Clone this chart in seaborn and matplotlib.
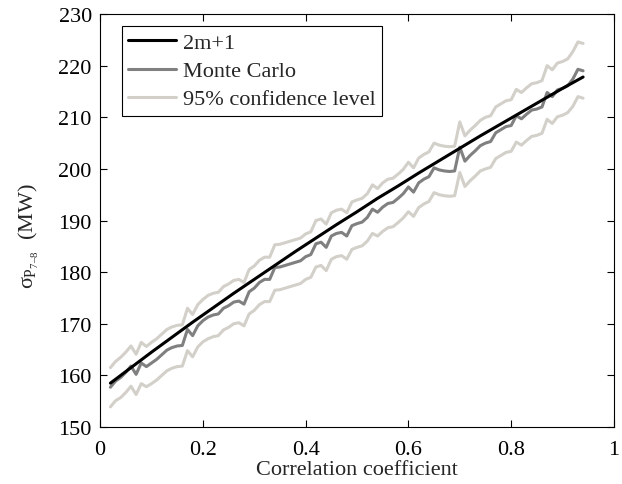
import numpy as np
import pandas as pd
import matplotlib
matplotlib.use("Agg")
import matplotlib.pyplot as plt
from matplotlib.lines import Line2D
import seaborn as sns

# ---- data ----
rho_mc = [round(0.02 + 0.01 * i, 2) for i in range(93)]  # 0.02 ... 0.94

monte_carlo = [157.7, 158.9, 159.6, 160.6, 161.8, 160.2, 162.4, 161.7, 162.4, 163.1,
               164.0, 164.9, 165.4, 165.7, 165.8, 168.9, 167.7, 169.6, 170.6, 171.3,
               171.7, 171.9, 173.0, 173.5, 174.2, 174.4, 173.8, 176.2, 176.9, 178.0,
               178.6, 178.6, 180.9, 181.0, 181.3, 181.6, 181.9, 182.2, 183.0, 183.4,
               185.5, 185.8, 184.8, 187.0, 187.5, 187.7, 187.0, 189.0, 189.4, 189.7,
               190.6, 192.2, 191.6, 192.6, 193.3, 193.5, 194.3, 195.2, 196.5, 195.5,
               197.3, 198.0, 198.5, 200.2, 199.8, 199.6, 199.5, 199.6, 204.2, 201.5,
               202.6, 203.5, 204.5, 205.0, 205.3, 207.0, 207.6, 208.2, 208.4, 210.3,
               209.7, 210.6, 211.4, 211.6, 212.0, 214.8, 214.0, 215.3, 215.6, 216.1,
               217.4, 219.3, 219.0]

ci_upper = [161.5, 162.7, 163.5, 164.5, 165.7, 164.1, 166.4, 165.6, 166.4, 167.1,
            168.0, 168.9, 169.4, 169.7, 169.8, 173.0, 171.8, 173.7, 174.7, 175.5,
            175.9, 176.1, 177.2, 177.7, 178.4, 178.6, 178.0, 180.5, 181.2, 182.3,
            182.9, 182.9, 185.3, 185.4, 185.7, 186.0, 186.3, 186.6, 187.4, 187.8,
            190.0, 190.3, 189.3, 191.5, 192.0, 192.2, 191.5, 193.6, 194.0, 194.3,
            195.2, 196.9, 196.2, 197.3, 198.0, 198.2, 199.0, 199.9, 201.3, 200.2,
            202.1, 202.8, 203.3, 205.0, 204.6, 204.4, 204.3, 204.4, 209.1, 206.4,
            207.5, 208.4, 209.4, 210.0, 210.3, 212.0, 212.6, 213.2, 213.4, 215.4,
            214.8, 215.7, 216.5, 216.7, 217.1, 220.0, 219.2, 220.5, 220.8, 221.3,
            222.7, 224.6, 224.3]

ci_lower = [153.9, 155.1, 155.7, 156.7, 157.9, 156.3, 158.4, 157.8, 158.4, 159.1,
            160.0, 160.9, 161.4, 161.7, 161.8, 164.8, 163.6, 165.5, 166.5, 167.1,
            167.5, 167.7, 168.8, 169.3, 170.0, 170.2, 169.6, 171.9, 172.6, 173.7,
            174.3, 174.3, 176.5, 176.6, 176.9, 177.2, 177.5, 177.8, 178.6, 179.0,
            181.0, 181.3, 180.3, 182.5, 183.0, 183.2, 182.5, 184.4, 184.8, 185.1,
            186.0, 187.5, 187.0, 187.9, 188.6, 188.8, 189.6, 190.5, 191.7, 190.8,
            192.5, 193.2, 193.7, 195.4, 195.0, 194.8, 194.7, 194.8, 199.3, 196.6,
            197.7, 198.6, 199.6, 200.0, 200.3, 202.0, 202.6, 203.2, 203.4, 205.2,
            204.6, 205.5, 206.3, 206.5, 206.9, 209.6, 208.8, 210.1, 210.4, 210.9,
            212.1, 214.0, 213.7]

rho_2m1 = [0.02, 0.06, 0.10, 0.14, 0.18, 0.22, 0.26, 0.30, 0.34, 0.38, 0.42, 0.46,
           0.50, 0.54, 0.58, 0.62, 0.66, 0.70, 0.74, 0.78, 0.82, 0.86, 0.90, 0.94]
sigma_2m1 = [158.5, 161.5, 164.5, 167.4, 170.3, 173.1, 175.9, 178.6, 181.3, 184.0,
             186.6, 189.2, 191.7, 194.3, 196.7, 199.2, 201.6, 204.0, 206.4, 208.7,
             211.0, 213.3, 215.6, 217.8]

labels = ["2m+1", "Monte Carlo", "95% confidence level"]
x_ticks = [0, 0.2, 0.4, 0.6, 0.8, 1]
x_ticklabels = ["0", "0.2", "0.4", "0.6", "0.8", "1"]
y_ticks = [150, 160, 170, 180, 190, 200, 210, 220, 230]

# ---- style ----
sns.set_style("ticks")
plt.rcParams["font.family"] = ["Liberation Serif", "DejaVu Serif"]
plt.rcParams["mathtext.fontset"] = "custom"
plt.rcParams["mathtext.rm"] = "Liberation Serif"
plt.rcParams["mathtext.it"] = "Liberation Serif"
plt.rcParams["mathtext.bf"] = "Liberation Serif:bold"
plt.rcParams["xtick.direction"] = "in"
plt.rcParams["ytick.direction"] = "in"

FS = 16
c_black = "#000000"
c_mc = "#808080"
c_ci = "#d3d0ca"
lw = 2.2

fig = plt.figure(figsize=(6.22, 4.85), dpi=100)
ax = fig.add_axes([0.161, 0.1175, 0.826, 0.8515])

df_mc = pd.DataFrame({"rho": rho_mc, "mc": monte_carlo, "up": ci_upper, "lo": ci_lower})
df_2m = pd.DataFrame({"rho": rho_2m1, "sigma": sigma_2m1})

sns.lineplot(data=df_mc, x="rho", y="up", ax=ax, color=c_ci, lw=lw, legend=False)
sns.lineplot(data=df_mc, x="rho", y="lo", ax=ax, color=c_ci, lw=lw, legend=False)
sns.lineplot(data=df_mc, x="rho", y="mc", ax=ax, color=c_mc, lw=lw, legend=False)
sns.lineplot(data=df_2m, x="rho", y="sigma", ax=ax, color=c_black, lw=lw, legend=False)

ax.set_xlim(0, 1)
ax.set_ylim(150, 230)
ax.set_xticks(x_ticks)
ax.set_xticklabels(x_ticklabels)
ax.set_yticks(y_ticks)
ax.tick_params(axis="both", which="both", direction="in", top=True, right=True,
               labelsize=FS, length=5, width=0.8, colors="black")
ax.tick_params(axis="x", pad=9)
ax.tick_params(axis="y", pad=6)
for s in ax.spines.values():
    s.set_visible(True)
    s.set_linewidth(0.8)
    s.set_color("black")

ax.set_xlabel("Correlation coefficient", fontsize=FS, labelpad=1)
ax.set_ylabel("$\\sigma_{\\mathrm{P}_{7\u20138}}$  (MW)", fontsize=FS)
ax.yaxis.set_label_coords(-0.115, 0.465)

handles = [Line2D([], [], color=c_black, lw=lw),
           Line2D([], [], color=c_mc, lw=lw),
           Line2D([], [], color=c_ci, lw=lw)]
leg = ax.legend(handles, labels, loc="upper left", bbox_to_anchor=(0.042, 0.971),
                fontsize=FS, frameon=True, fancybox=False, framealpha=1,
                edgecolor="black", handlelength=2.15, handletextpad=0.3,
                borderpad=0.3, labelspacing=0.34, borderaxespad=0)
leg.get_frame().set_linewidth(0.8)

fig.savefig("out.png", dpi=100)
